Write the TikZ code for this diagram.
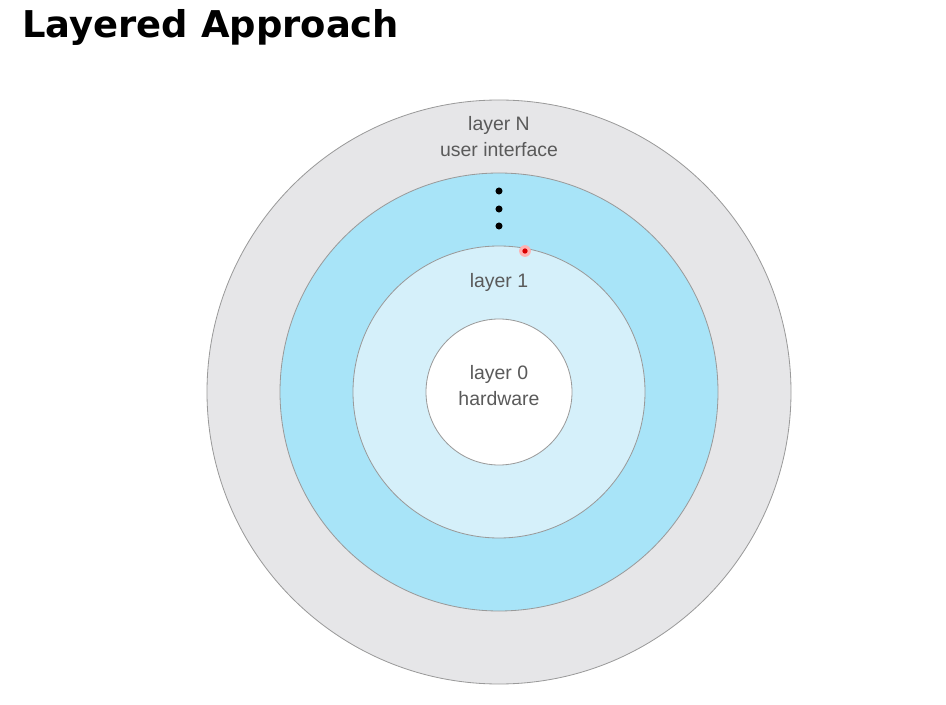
\documentclass[tikz,border=0pt]{standalone}
\usepackage{fontspec}
\setmainfont{Liberation Sans}
\newfontfamily\titlefont{DejaVu Sans}
\usepackage{xcolor}
\usetikzlibrary{positioning}
\definecolor{ringgray}{HTML}{E6E6E8}
\definecolor{ringblue}{HTML}{A8E4F8}
\definecolor{ringpale}{HTML}{D5F0FA}
\definecolor{edgegray}{HTML}{9A9A9A}
\definecolor{labelgray}{HTML}{5A5A5A}

\begin{document}
\begin{tikzpicture}[
  x=0.3mm, y=-0.3mm,
  layer/.style={circle, draw=edgegray, line width=0.7pt, inner sep=0pt},
  lbl/.style={font=\fontsize{16.6}{22.2}\selectfont, text=labelgray, align=center, inner sep=0pt},
  dotmark/.style={circle, fill=black, inner sep=0pt, minimum size=6pt},
]
\useasboundingbox (0,0) rectangle (946,705);
\node[anchor=base west, inner sep=0pt, font=\titlefont\bfseries\fontsize{31.5}{36}\selectfont] (title) at (22,38) {Layered Approach};
% rings, outside in
\node[layer, fill=ringgray, minimum size=175.2mm] (outer) at (499,392) {};
\node[layer, fill=ringblue, minimum size=131.4mm] (ringN) at (outer.center) {};
\node[layer, fill=ringpale, minimum size=87.6mm] (ring1) at (outer.center) {};
\node[layer, fill=white, minimum size=43.8mm] (core) at (outer.center) {};
% labels
\node[lbl] (labN) at (499,137) {layer N\\user interface};
\node[lbl] (lab1) at (499,282) {layer 1};
\node[lbl] (lab0) at (499,386) {layer 0\\hardware};
\foreach \y [count=\i] in {191,209,226}
  \node[dotmark] (dot\i) at (499,\y) {};
% pointer mark
\node[circle, fill=red!30, inner sep=0pt, minimum size=10pt] (halo) at (525,251) {};
\node[circle, fill=red!85!black, inner sep=0pt, minimum size=4.5pt] (ptr) at (halo.center) {};
\end{tikzpicture}
\end{document}
